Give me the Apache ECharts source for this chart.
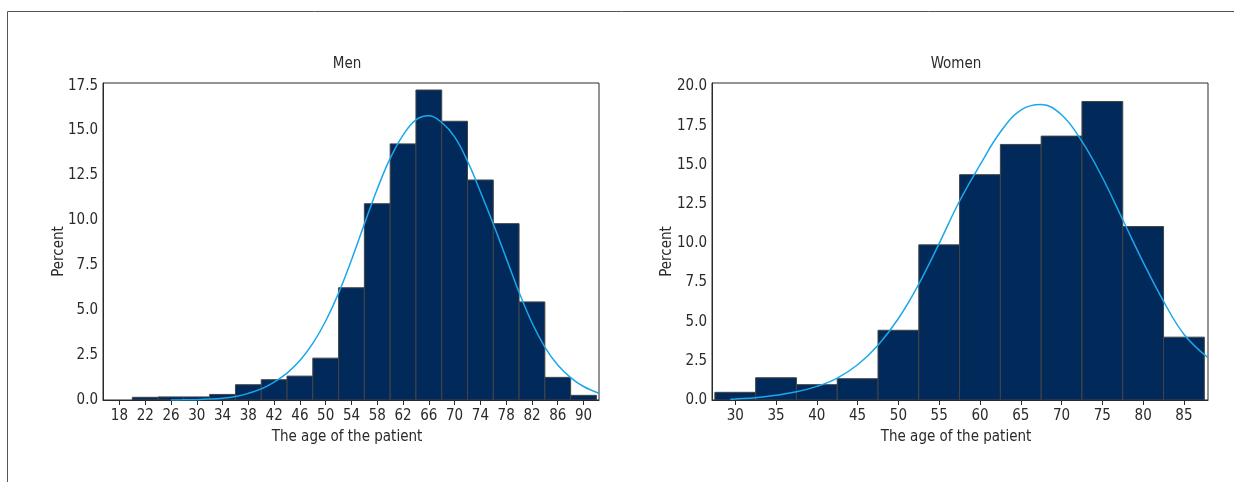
<!DOCTYPE html>
<html>
<head>
<meta charset="utf-8">
<script src="https://cdn.jsdelivr.net/npm/echarts@6/dist/echarts.min.js"></script>
<style>
html,body{margin:0;padding:0;background:#ffffff;}
#chart{width:1234px;height:482px;}
</style>
</head>
<body>
<div id="chart"></div>
<script>
// ---------- DATA ----------
const menBinCenters = [18, 22, 26, 30, 34, 38, 42, 46, 50, 54, 58, 62, 66, 70, 74, 78, 82, 86, 90];
const menPercent    = [0, 0.15, 0.17, 0.17, 0.31, 0.85, 1.13, 1.33, 2.33, 6.25, 10.93, 14.26, 17.26, 15.52, 12.25, 9.82, 5.46, 1.26, 0.26];
const menBinWidth = 4;

const womenBinCenters = [30, 35, 40, 45, 50, 55, 60, 65, 70, 75, 80, 85];
const womenPercent    = [0.49, 1.42, 0.98, 1.36, 4.45, 9.9, 14.38, 16.31, 16.84, 19.05, 11.07, 4.01];
const womenBinWidth = 5;

// normal curves
const menCurveAge = [26, 28, 30, 32, 34, 36, 38, 40, 42, 44, 46, 48, 50, 52, 54, 56, 58, 60, 62, 64, 66, 68, 70, 72, 74, 76, 78, 80, 82, 84, 86, 88, 90, 92.4];
const menCurvePct = [0, 0.01, 0.02, 0.05, 0.1, 0.2, 0.37, 0.62, 1.0, 1.5, 2.2, 3.15, 4.4, 5.95, 7.8, 9.8, 11.75, 13.45, 14.75, 15.6, 15.82, 15.45, 14.65, 13.3, 11.6, 9.8, 7.9, 6.0, 4.3, 2.95, 1.95, 1.25, 0.75, 0.38];

const womenCurveAge = [29.4, 30, 32.5, 35, 37.5, 40, 42.5, 45, 47.5, 50, 52.5, 55, 57.5, 60, 62.5, 65, 67.5, 70, 72.5, 75, 77.5, 80, 82.5, 85, 87.95];
const womenCurvePct = [0.04, 0.06, 0.15, 0.3, 0.52, 0.87, 1.4, 2.25, 3.5, 5.2, 7.4, 10.0, 12.7, 15.0, 17.1, 18.5, 18.85, 18.2, 16.5, 14.2, 11.5, 8.8, 6.3, 4.2, 2.7];

const menXTicks = [18, 22, 26, 30, 34, 38, 42, 46, 50, 54, 58, 62, 66, 70, 74, 78, 82, 86, 90];
const menYTicks = [0, 2.5, 5, 7.5, 10, 12.5, 15, 17.5];
const womenXTicks = [30, 35, 40, 45, 50, 55, 60, 65, 70, 75, 80, 85];
const womenYTicks = [0, 2.5, 5, 7.5, 10, 12.5, 15, 17.5, 20];

const titles = ['Men', 'Women'];
const xName = 'The age of the patient';
const yName = 'Percent';

// ---------- STYLE ----------
const FONT = "'Liberation Sans Narrow','DejaVu Sans Condensed','Liberation Sans',sans-serif";
const FS = 15;
const TEXT = '#2a2a2a';
const AXIS = '#2a2a2a';
const BAR_FILL = '#012a5b';
const BAR_EDGE = '#444444';
const CURVE = '#1aa7ec';

function histItem(binWidth) {
  return function (params, api) {
    const x = api.value(0), y = api.value(1);
    if (!y) return null;
    const p0 = api.coord([x - binWidth / 2, y]);
    const p1 = api.coord([x + binWidth / 2, 0]);
    return {
      type: 'rect',
      shape: { x: p0[0], y: p0[1], width: p1[0] - p0[0], height: p1[1] - p0[1] },
      style: { fill: BAR_FILL, stroke: BAR_EDGE, lineWidth: 1 }
    };
  };
}

function xAxis(idx, min, max, ticks) {
  return {
    type: 'value', gridIndex: idx, min: min, max: max,
    name: xName, nameLocation: 'middle', nameGap: 30, nameMoveOverlap: false,
    nameTextStyle: { fontFamily: FONT, fontSize: FS, color: TEXT, padding: [0, 8, 0, 0] },
    axisLine: { show: true, lineStyle: { color: AXIS, width: 1 } },
    axisTick: { show: true, length: 5, lineStyle: { color: AXIS }, customValues: ticks },
    axisLabel: { fontFamily: FONT, fontSize: FS, color: TEXT, margin: 9, customValues: ticks },
    splitLine: { show: false }
  };
}
function yAxis(idx, min, max, ticks, gap) {
  return {
    type: 'value', gridIndex: idx, min: min, max: max,
    name: yName, nameLocation: 'middle', nameGap: gap, nameMoveOverlap: false,
    nameTextStyle: { fontFamily: FONT, fontSize: FS, color: TEXT, padding: [0, 20, 0, 0] },
    axisLine: { show: true, lineStyle: { color: AXIS, width: 1 } },
    axisTick: { show: false, customValues: ticks },
    axisLabel: { fontFamily: FONT, fontSize: FS, color: TEXT, margin: 5, customValues: ticks,
      formatter: v => v.toFixed(1) },
    splitLine: { show: false }
  };
}

const chart = echarts.init(document.getElementById('chart'), null, { renderer: 'canvas' });
chart.setOption({
  animation: false,
  backgroundColor: '#ffffff',
  title: [
    { text: titles[0], left: 347, top: 57, textAlign: 'center', padding: 0,
      textStyle: { fontFamily: FONT, fontSize: FS, fontWeight: 'normal', color: TEXT } },
    { text: titles[1], left: 956, top: 57, textAlign: 'center', padding: 0,
      textStyle: { fontFamily: FONT, fontSize: FS, fontWeight: 'normal', color: TEXT } }
  ],
  graphic: [{
    type: 'polyline', silent: true,
    shape: { points: [[7.5, 500], [7.5, 11.5], [1250, 11.5]] },
    style: { stroke: '#555555', lineWidth: 1, fill: null }
  }],
  grid: [
    { left: 103, top: 83, width: 496, height: 317, show: true, borderColor: AXIS, borderWidth: 1 },
    { left: 712, top: 83, width: 496, height: 317, show: true, borderColor: AXIS, borderWidth: 1 }
  ],
  xAxis: [
    xAxis(0, 15.45, 92.4, menXTicks),
    xAxis(1, 27.15, 87.95, womenXTicks)
  ],
  yAxis: [
    yAxis(0, 0, 17.65, menYTicks, 36),
    yAxis(1, 0, 20.23, womenYTicks, 37)
  ],
  series: [
    { type: 'custom', xAxisIndex: 0, yAxisIndex: 0, clip: true,
      renderItem: histItem(menBinWidth),
      data: menBinCenters.map((a, i) => [a, menPercent[i]]) },
    { type: 'custom', xAxisIndex: 1, yAxisIndex: 1, clip: true,
      renderItem: histItem(womenBinWidth),
      data: womenBinCenters.map((a, i) => [a, womenPercent[i]]) },
    { type: 'line', xAxisIndex: 0, yAxisIndex: 0, smooth: 0.4, showSymbol: false, clip: true,
      lineStyle: { color: CURVE, width: 1.5 }, z: 5,
      data: menCurveAge.map((a, i) => [a, menCurvePct[i]]) },
    { type: 'line', xAxisIndex: 1, yAxisIndex: 1, smooth: 0.4, showSymbol: false, clip: true,
      lineStyle: { color: CURVE, width: 1.5 }, z: 5,
      data: womenCurveAge.map((a, i) => [a, womenCurvePct[i]]) }
  ]
});
</script>
</body>
</html>
